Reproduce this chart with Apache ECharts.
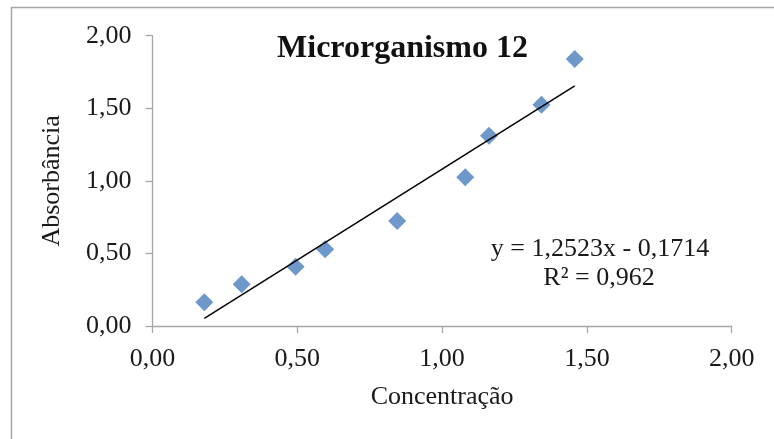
<!DOCTYPE html>
<html>
<head>
<meta charset="utf-8">
<script src="https://cdn.jsdelivr.net/npm/echarts@6/dist/echarts.min.js"></script>
<style>
  html, body { margin: 0; padding: 0; background: #fff; }
  #chart { width: 774px; height: 439px; }
</style>
</head>
<body>
<div id="chart"></div>
<script>
// Concentração vs. absorbância, microrganismo 12
const concentracao = [0.179, 0.308, 0.494, 0.596, 0.845, 1.080, 1.162, 1.343, 1.458];
const absorbancia  = [0.163, 0.287, 0.408, 0.528, 0.723, 1.024, 1.311, 1.524, 1.839];

// Linear trendline coefficients (y = a·x + b) and R²
const slope = 1.2523;
const intercept = -0.1714;
const r2 = 0.962;

const xTicks = [0, 0.5, 1, 1.5, 2];
const yTicks = [0, 0.5, 1, 1.5, 2];

const fmt = (v, d) => v.toFixed(d).replace('.', ',');

const points = concentracao.map((x, i) => [x, absorbancia[i]]);
const xMin = Math.min(...concentracao);
const xMax = Math.max(...concentracao);
const trend = [[xMin, slope * xMin + intercept], [xMax, slope * xMax + intercept]];

const serif = '"Liberation Serif", "Times New Roman", serif';
const axisGray = '#A6A6A6';
const ink = '#1a1a1a';

const chart = echarts.init(document.getElementById('chart'));
chart.setOption({
  animation: false,
  backgroundColor: '#fff',
  textStyle: { fontFamily: serif },
  title: {
    text: 'Microrganismo 12',
    left: 397.5, top: 28, textAlign: 'center',
    textStyle: { fontFamily: serif, fontSize: 32, fontWeight: 'bold', color: '#111' }
  },
  grid: { left: 152.5, top: 35.7, width: 579.2, height: 290.3 },
  xAxis: {
    type: 'value', min: xTicks[0], max: xTicks[xTicks.length - 1], interval: 0.5,
    name: 'Concentração', nameLocation: 'middle', nameGap: 58,
    nameTextStyle: { fontFamily: serif, fontSize: 26, color: ink },
    axisLine: { show: true, lineStyle: { color: axisGray, width: 1.3 } },
    axisTick: { show: true, length: 7, lineStyle: { color: axisGray, width: 1.3 } },
    axisLabel: { fontFamily: serif, fontSize: 26, color: ink, margin: 20, formatter: v => fmt(v, 2) },
    splitLine: { show: false }
  },
  yAxis: {
    type: 'value', min: yTicks[0], max: yTicks[yTicks.length - 1], interval: 0.5,
    name: 'Absorbância', nameLocation: 'middle', nameGap: 87, nameRotate: 90,
    nameTextStyle: { fontFamily: serif, fontSize: 26, color: ink },
    axisLine: { show: true, lineStyle: { color: axisGray, width: 1.3 } },
    axisTick: { show: true, length: 7, lineStyle: { color: axisGray, width: 1.3 } },
    axisLabel: { fontFamily: serif, fontSize: 26, color: ink, margin: 21, formatter: v => fmt(v, 2) },
    splitLine: { show: false }
  },
  graphic: [
    {
      type: 'rect', silent: true, z: -1,
      shape: { x: 11.5, y: 7.5, width: 800, height: 500 },
      style: { fill: 'none', stroke: '#A6A6A6', lineWidth: 1.5 }
    },
    {
      type: 'text', x: 600, y: 249,
      style: {
        text: 'y = ' + fmt(slope, 4) + 'x - ' + fmt(-intercept, 4),
        font: '26px ' + serif, fill: ink, align: 'center', verticalAlign: 'middle'
      }
    },
    {
      type: 'text', x: 599, y: 278,
      style: {
        text: 'R² = ' + fmt(r2, 3),
        font: '26px ' + serif, fill: ink, align: 'center', verticalAlign: 'middle'
      }
    }
  ],
  series: [
    {
      type: 'line', data: trend, symbol: 'none', z: 3,
      lineStyle: { color: '#000', width: 1.5 }
    },
    {
      type: 'scatter', data: points, symbol: 'diamond', symbolSize: [18, 18], z: 2,
      itemStyle: { color: '#4A7EBB' }
    }
  ]
});
</script>
</body>
</html>
